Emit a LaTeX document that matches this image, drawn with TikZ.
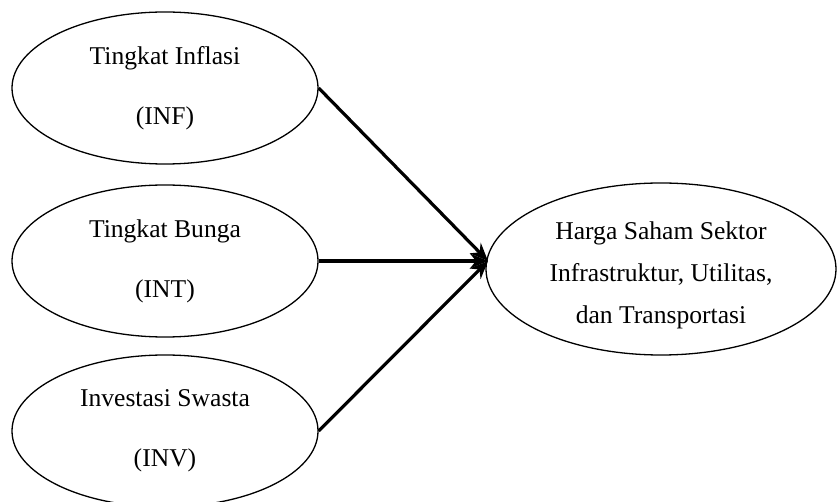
\documentclass[tikz,border=0pt]{standalone}
\usepackage{fontspec}
\setmainfont{Liberation Serif}
\usetikzlibrary{shapes.geometric,arrows.meta}
\begin{document}
\begin{tikzpicture}[x=1pt,y=-1pt,
  srcell/.style={ellipse,draw,line width=1.3pt,inner sep=0pt,
    minimum width=306pt,minimum height=152pt,align=center,
    font=\fontsize{25.6}{60}\selectfont},
  dstell/.style={ellipse,draw,line width=1.3pt,inner sep=0pt,
    minimum width=350pt,minimum height=172pt},
  dsttext/.style={align=center,font=\fontsize{25.6}{42}\selectfont},
  link/.style={line width=3.2pt,-{Stealth[length=18pt,width=15pt,inset=6pt]}}]
\useasboundingbox (0,0) rectangle (838,502);
\node[srcell] (inf) at (165,88) {Tingkat Inflasi\\(INF)};
\node[srcell] (int) at (165,261) {Tingkat Bunga\\(INT)};
\node[srcell] (inv) at (165,431) {Investasi Swasta\\(INV)};
\node[dstell] (hs) at (661,269) {};
\node[dsttext] (hstext) at (661,275)
  {Harga Saham Sektor\\Infrastruktur, Utilitas,\\dan Transportasi};
\coordinate (tip) at (488,261);
\draw[link] (inf.east) -- (tip);
\draw[link] (int.east) -- (tip);
\draw[link] (inv.east) -- (tip);
\end{tikzpicture}
\end{document}
